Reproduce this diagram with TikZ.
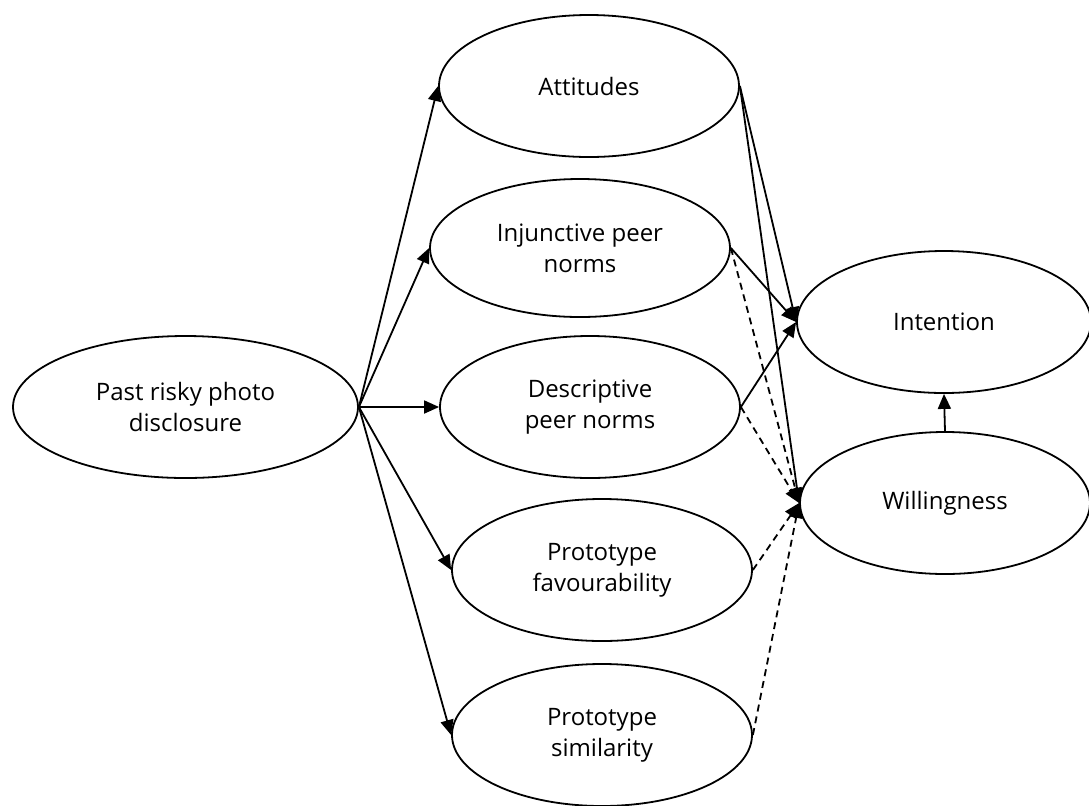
\documentclass[tikz,border=0pt]{standalone}
\usepackage{fontspec}
\setmainfont{Open Sans}
\usetikzlibrary{shapes.geometric,arrows.meta}

\begin{document}
\begin{tikzpicture}[x=0.5pt,y=-0.5pt,
  factor/.style={draw,ellipse,line width=0.9pt,minimum width=150pt,
    minimum height=71pt,align=center,font=\fontsize{12}{15.5}\selectfont},
  path link/.style={line width=0.9pt,-{Triangle[length=7.5pt,width=6.5pt]}},
  weak link/.style={path link,dash pattern=on 3.5pt off 2.5pt}]

  \useasboundingbox (0,0) rectangle (1089,805);

  % Past behaviour

  \node [factor,minimum width=172.5pt] (pas) at (185.5,407) {Past risky photo\\disclosure};

  % Prototype / willingness model factors

  \node [factor] (att) at (589,86) {Attitudes};
  \node [factor,minimum height=69pt] (inj) at (580,248) {Injunctive peer\\norms};
  \node [factor] (des) at (590,407) {Descriptive\\peer norms};
  \node [factor] (fav) at (602,570) {Prototype\\favourability};
  \node [factor] (sim) at (602,735) {Prototype\\similarity};

  % Outcomes

  \node [factor,minimum width=147pt] (int) at (944,322) {Intention};
  \node [factor,minimum width=145pt] (wil) at (945,503) {Willingness};

  % Paths from past behaviour

  \draw [path link] (pas.east) -- (att.west);
  \draw [path link] (pas.east) -- (inj.west);
  \draw [path link] (pas.east) -- (des.west);
  \draw [path link] (pas.east) -- (fav.west);
  \draw [path link] (pas.east) -- (sim.west);

  % Paths to intention and willingness

  \draw [path link] (att.east) -- (int.west);
  \draw [path link] (att.east) -- (wil.west);
  \draw [path link] (inj.east) -- (int.west);
  \draw [weak link] (inj.east) -- (wil.west);
  \draw [path link] (des.east) -- (int.west);
  \draw [weak link] (des.east) -- (wil.west);
  \draw [weak link] (fav.east) -- (wil.west);
  \draw [weak link] (sim.east) -- (wil.west);
  \draw [path link] (wil.north) -- (int.south);
\end{tikzpicture}
\end{document}
